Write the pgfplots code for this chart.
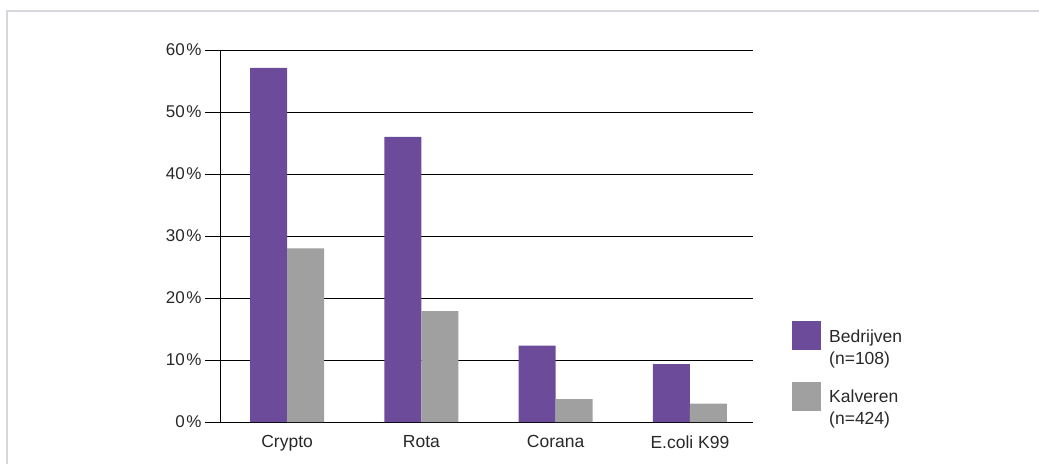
\documentclass[border=0pt]{standalone}
\usepackage{fontspec}
\setmainfont{Liberation Sans}
\usepackage{pgfplots}
\pgfplotsset{compat=1.18}
\definecolor{purp}{RGB}{108,76,154}
\definecolor{gry}{RGB}{160,160,160}
\definecolor{framec}{RGB}{214,214,220}
\definecolor{txt}{RGB}{40,40,40}
\begin{document}
\begin{tikzpicture}[x=1pt,y=1pt]
\path[use as bounding box] (0,0) rectangle (1039,464);
\draw[framec,line width=2.2pt] (7,0) -- (7,453) -- (1039,453);
\begin{axis}[
  at={(220pt,42pt)}, anchor=south west,
  width=533pt, height=372pt, scale only axis,
  ybar=0pt, bar width=37pt,
  xmin=-0.5, xmax=3.47, xtick={0,1,2,3},
  xticklabels={Crypto,Rota,Corana,E.coli K99},
  ymin=0, ymax=60, ytick={0,10,...,60},
  yticklabel={\pgfmathprintnumber{\tick}\hspace{1.5pt}\%},
  /pgf/number format/assume math mode=true,
  axis lines=left, axis line style={-, line width=0.9pt, black},
  ymajorgrids, grid style={black, line width=0.9pt},
  x tick style={draw=none},
  y tick style={black, line width=0.9pt},
  tick align=outside, major tick length=15pt,
  tick label style={font=\fontsize{17}{20}\selectfont, text=txt},
  xticklabel style={yshift=5pt, font=\fontsize{17.5}{20}\selectfont},
  legend cell align=left,
  legend style={at={(1.0732,0.2715)}, anchor=north west, draw=none, fill=none,
    inner sep=0pt, row sep=14pt, column sep=6pt,
    nodes={align=left, font=\fontsize{17.5}{22}\selectfont, text=txt}},
  legend image code/.code={\fill[#1] (0pt,-2.5pt) rectangle (29pt,26.5pt);},
]
\addplot[fill=purp, draw=none] coordinates {(0,57.1) (1,46.0) (2,12.3) (3,9.35)};
\addplot[fill=gry, draw=none] coordinates {(0,28.0) (1,17.9) (2,3.7) (3,2.95)};
\legend{{Bedrijven\\(n=108)},{Kalveren\\(n=424)}}
\end{axis}
\end{tikzpicture}
\end{document}
